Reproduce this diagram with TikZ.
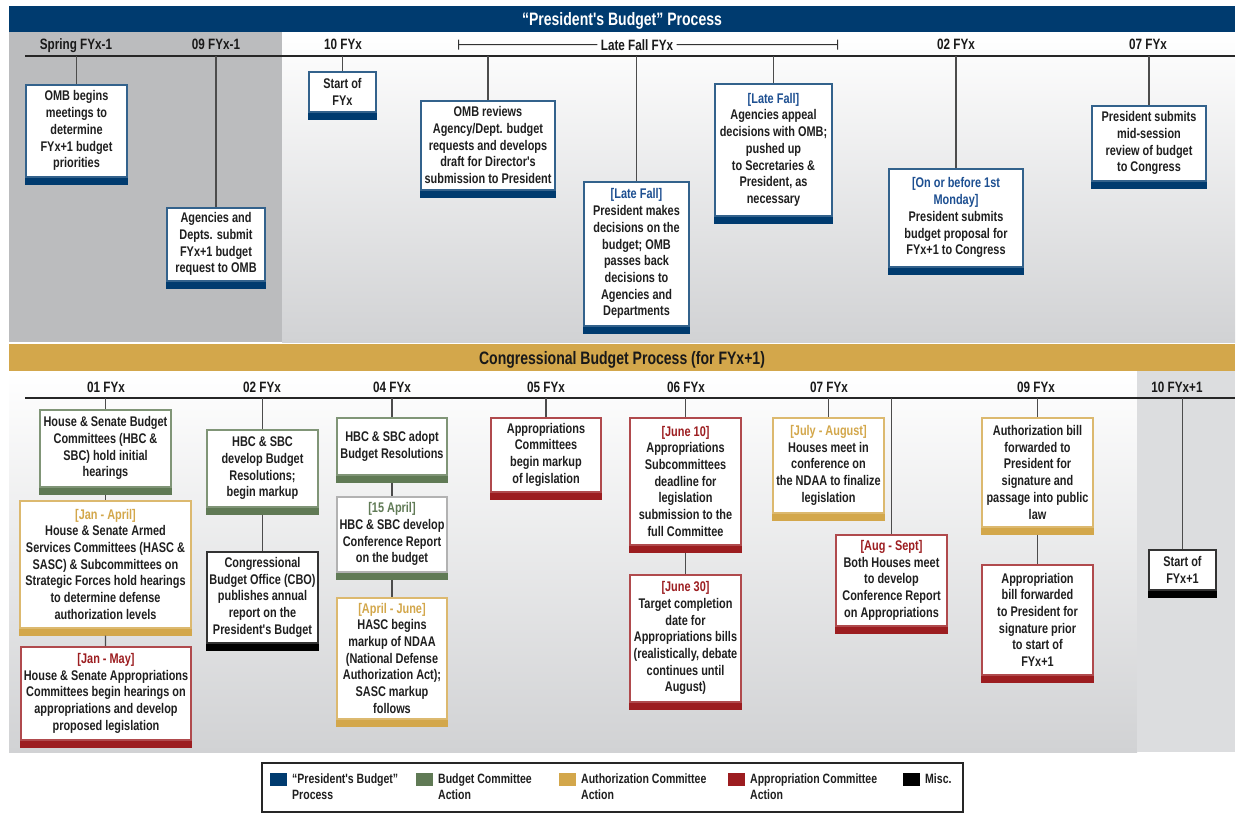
\documentclass[tikz,border=0pt]{standalone}
\usepackage{fontspec}
\newfontfamily\condfont{Liberation Sans}[FakeStretch=0.78]
\usetikzlibrary{arrows.meta}
\definecolor{pbblue}{HTML}{003B6F}
\definecolor{pbtext}{HTML}{1D4F91}
\definecolor{bcgreen}{HTML}{607A55}
\definecolor{acgold}{HTML}{D3A74B}
\definecolor{apred}{HTML}{9C1D20}
\definecolor{panelgrey}{HTML}{BBBCBE}
\definecolor{shadegrey}{HTML}{D1D2D4}
\definecolor{stripgrey}{HTML}{DCDDDF}
\newcommand\boxfont{\condfont\bfseries\fontsize{14}{16.7}\selectfont}
\newcommand\ticklabelfont{\condfont\bfseries\fontsize{15}{18}\selectfont}
\newcommand\bandfont{\condfont\bfseries\fontsize{18}{21}\selectfont}
\newcommand\legfont{\condfont\bfseries\fontsize{13.5}{16}\selectfont}
\tikzset{
    evbox/.style={draw=#1!80, line width=1.5pt, fill=white, align=center, font=\boxfont,
        text=black!88, inner xsep=1pt, inner ysep=2pt, anchor=north},
    stem/.style={black!70, line width=1.3pt},
    tline/.style={black!85, line width=2.2pt},
    ticklabel/.style={font=\ticklabelfont, text=black!90, anchor=base},
    bandtitle/.style={font=\bandfont, anchor=base},
    legsq/.style={minimum width=17pt, minimum height=13pt, inner sep=0pt},
    legtext/.style={font=\legfont, text=black!88, align=left, anchor=west, inner sep=0pt}
}

\begin{document}
\begin{tikzpicture}[x=1pt, y=-1pt]
\useasboundingbox (0,0) rectangle (1238,825);
% panels
\fill[pbblue] (9,6) rectangle (1235,32);
\fill[panelgrey] (9,32) rectangle (282,342);
\shade[top color=white, bottom color=shadegrey] (282,32) rectangle (1235,342);
\fill[acgold] (9,344) rectangle (1235,371);
\shade[top color=white, bottom color=shadegrey] (9,371) rectangle (1137,752);
\fill[stripgrey] (1137,371) rectangle (1235,752);
\node[bandtitle, text=white] (ptitle) at (622,25.5) {“President's Budget” Process};
\node[bandtitle, text=black!90] (ctitle) at (622,364.5) {Congressional Budget Process (for FYx+1)};

% timelines
\coordinate (ta) at (25,56);
\coordinate (tb) at (1235,56);
\coordinate (ba) at (25,398);
\coordinate (bb) at (1235,398);
\draw[tline] (ta) -- (tb);
\draw[tline] (ba) -- (bb);

\node[ticklabel] (mspring) at (76,49.5) {Spring FYx-1};
\node[ticklabel] (msep) at (216,49.5) {09 FYx-1};
\node[ticklabel] (moct) at (343,49.5) {10 FYx};
\node[ticklabel] (mlate) at (637,50) {Late Fall FYx};
\node[ticklabel] (mfeb) at (956,49.5) {02 FYx};
\node[ticklabel] (mjul) at (1148,49.5) {07 FYx};
\coordinate (lfa) at (458,44.5);
\coordinate (lfb) at (838,44.5);
\draw[black!80, line width=1pt, {Bar[width=10pt]}-] (lfa) -- (mlate.west);
\draw[black!80, line width=1pt, -{Bar[width=10pt]}] (mlate.east) -- (lfb);

\node[ticklabel] (cjan) at (106,392.5) {01 FYx};
\node[ticklabel] (cfeb) at (262,392.5) {02 FYx};
\node[ticklabel] (capr) at (392,392.5) {04 FYx};
\node[ticklabel] (cmay) at (546,392.5) {05 FYx};
\node[ticklabel] (cjun) at (686,392.5) {06 FYx};
\node[ticklabel] (cjul) at (829,392.5) {07 FYx};
\node[ticklabel] (csep) at (1036,392.5) {09 FYx};
\node[ticklabel] (coct) at (1177,392.5) {10 FYx+1};

% president's budget boxes
\node[evbox=pbblue, minimum width=101pt, minimum height=92pt] (omb) at (76.5,84)
    {OMB begins\\meetings to\\determine\\FYx+1 budget\\priorities};
\node[evbox=pbblue, minimum width=98pt, minimum height=73pt] (agen) at (216,207)
    {Agencies and\\Depts. submit\\FYx+1 budget\\request to OMB};
\node[evbox=pbblue, minimum width=67pt, minimum height=40pt] (startfy) at (342.5,71)
    {Start of\\FYx};
\node[evbox=pbblue, minimum width=134pt, minimum height=89pt] (review) at (488,100)
    {OMB reviews\\Agency/Dept. budget\\requests and develops\\draft for Director's\\submission to President};
\node[evbox=pbblue, minimum width=105pt, minimum height=144pt] (presdec) at (636.5,181)
    {{\color{pbtext}[Late Fall]}\\President makes\\decisions on the\\budget; OMB\\passes back\\decisions to\\Agencies and\\Departments};
\node[evbox=pbblue, minimum width=117pt, minimum height=132pt] (appeal) at (773.5,83)
    {{\color{pbtext}[Late Fall]}\\Agencies appeal\\decisions with OMB;\\pushed up\\to Secretaries \&\\President, as\\necessary};
\node[evbox=pbblue, minimum width=134pt, minimum height=98pt] (submit) at (956,168)
    {{\color{pbtext}[On or before 1st}\\{\color{pbtext}Monday]}\\President submits\\budget proposal for\\FYx+1 to Congress};
\node[evbox=pbblue, minimum width=114pt, minimum height=75pt] (midses) at (1149,105)
    {President submits\\mid-session\\review of budget\\to Congress};

% congressional boxes
\node[evbox=bcgreen, minimum width=131pt, minimum height=77pt] (hbcinit) at (105.5,409)
    {House \& Senate Budget\\Committees (HBC \&\\SBC) hold initial\\hearings};
\node[evbox=acgold, minimum width=171pt, minimum height=127pt] (hasc) at (105.5,500)
    {{\color{acgold}[Jan - April]}\\House \& Senate Armed\\Services Committees (HASC \&\\SASC) \& Subcommittees on\\Strategic Forces hold hearings\\to determine defense\\authorization levels};
\node[evbox=apred, minimum width=170pt, minimum height=93pt] (hsac) at (106,646)
    {{\color{apred}[Jan - May]}\\House \& Senate Appropriations\\Committees begin hearings on\\appropriations and develop\\proposed legislation};
\node[evbox=bcgreen, minimum width=111pt, minimum height=77pt] (resol) at (262.5,429)
    {HBC \& SBC\\develop Budget\\Resolutions;\\begin markup};
\node[evbox=black, minimum width=111pt, minimum height=91pt] (cbo) at (262.5,551)
    {Congressional\\Budget Office (CBO)\\publishes annual\\report on the\\President's Budget};
\node[evbox=bcgreen, minimum width=110pt, minimum height=57pt] (adopt) at (392,417)
    {HBC \& SBC adopt\\Budget Resolutions};
\node[evbox=bcgreen, draw=black!30, minimum width=110pt, minimum height=75pt] (confrep) at (392,496)
    {{\color{bcgreen}[15 April]}\\HBC \& SBC develop\\Conference Report\\on the budget};
\node[evbox=acgold, minimum width=110pt, minimum height=121pt] (ndaa) at (392,597)
    {{\color{acgold}[April - June]}\\HASC begins\\markup of NDAA\\(National Defense\\Authorization Act);\\SASC markup\\follows};
\node[evbox=apred, minimum width=110pt, minimum height=74pt] (apmark) at (546,417)
    {Appropriations\\Committees\\begin markup\\of legislation};
\node[evbox=apred, minimum width=111pt, minimum height=127pt] (june10) at (685.5,417)
    {{\color{apred}[June 10]}\\Appropriations\\Subcommittees\\deadline for\\legislation\\submission to the\\full Committee};
\node[evbox=apred, minimum width=111pt, minimum height=127pt] (june30) at (685.5,574)
    {{\color{apred}[June 30]}\\Target completion\\date for\\Appropriations bills\\(realistically, debate\\continues until\\August)};
\node[evbox=acgold, minimum width=111pt, minimum height=95pt] (julaug) at (828.5,417)
    {{\color{acgold}[July - August]}\\Houses meet in\\conference on\\the NDAA to finalize\\legislation};
\node[evbox=apred, minimum width=111pt, minimum height=91pt] (augsep) at (891.5,534)
    {{\color{apred}[Aug - Sept]}\\Both Houses meet\\to develop\\Conference Report\\on Appropriations};
\node[evbox=acgold, minimum width=111pt, minimum height=109pt] (authbill) at (1037.5,417)
    {Authorization bill\\forwarded to\\President for\\signature and\\passage into public\\law};
\node[evbox=apred, minimum width=111pt, minimum height=110pt] (appbill) at (1037.5,564)
    {Appropriation\\bill forwarded\\to President for\\signature prior\\to start of\\FYx+1};
\node[evbox=black, minimum width=67pt, minimum height=40pt] (startx) at (1182.5,549)
    {Start of\\FYx+1};

% colour bands under the boxes
\foreach \n/\col in {omb/pbblue, agen/pbblue, startfy/pbblue, review/pbblue, presdec/pbblue,
    appeal/pbblue, submit/pbblue, midses/pbblue, hbcinit/bcgreen, hasc/acgold, hsac/apred,
    resol/bcgreen, cbo/black, adopt/bcgreen, confrep/bcgreen, ndaa/acgold, apmark/apred,
    june10/apred, june30/apred, julaug/acgold, augsep/apred, authbill/acgold, appbill/apred,
    startx/black}
    \fill[fill=\col] (\n.south west) rectangle ([yshift=-7pt]\n.south east);

% stems from the timelines
\foreach \n/\xx in {omb/76.5, agen/216, startfy/342.5, review/488, presdec/636.5,
    appeal/773.5, submit/956, midses/1149}
{
    \coordinate (t-\n) at (\xx,56);
    \draw[stem] (t-\n) -- (\n);
}
\foreach \n/\xx in {hbcinit/105.5, resol/262.5, adopt/392, apmark/546, june10/685.5,
    julaug/828.5, augsep/891.5, authbill/1037.5, startx/1182.5}
{
    \coordinate (b-\n) at (\xx,398);
    \draw[stem] (b-\n) -- (\n);
}
\foreach \a/\b in {hbcinit/hasc, hasc/hsac, resol/cbo, adopt/confrep, confrep/ndaa,
    june10/june30, authbill/appbill}
    \draw[stem] ([yshift=-7pt]\a.south) -- (\b);

% legend
\node[draw=black!85, line width=2pt, fill=white, minimum width=701pt, minimum height=49pt,
    inner sep=0pt] (legend) at (612.5,787.5) {};
\node[legsq, fill=pbblue] (lgblue) at (278,779.5) {};
\node[legsq, fill=bcgreen] (lggreen) at (424.5,779.5) {};
\node[legsq, fill=acgold] (lggold) at (567.5,779.5) {};
\node[legsq, fill=apred] (lgred) at (736.5,779.5) {};
\node[legsq, fill=black] (lgblack) at (911.5,779.5) {};
\node[legtext] (ltblue) at (292,787) {“President's Budget”\\Process};
\node[legtext] (ltgreen) at (438,787) {Budget Committee\\Action};
\node[legtext] (ltgold) at (581,787) {Authorization Committee\\Action};
\node[legtext] (ltred) at (750,787) {Appropriation Committee\\Action};
\node[legtext] (ltblack) at (925,779) {Misc.};
\end{tikzpicture}
\end{document}
